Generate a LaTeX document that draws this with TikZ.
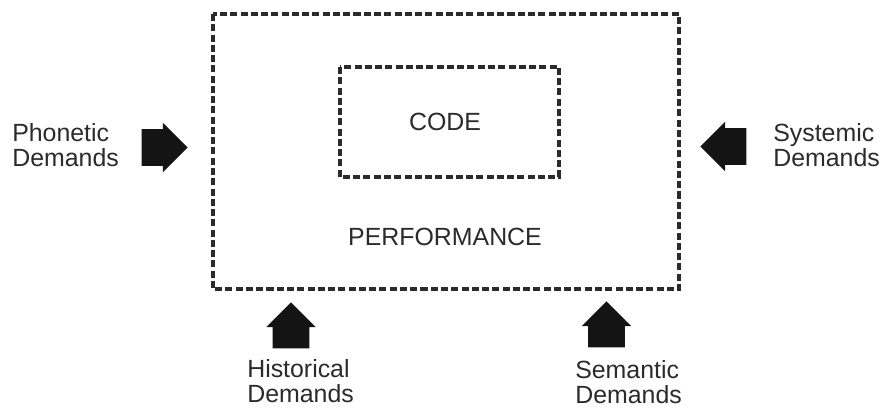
\documentclass[tikz,border=0pt]{standalone}
\usepackage{fontspec}
\setmainfont{Liberation Sans}
\usetikzlibrary{positioning, shapes.arrows}
\definecolor{inkgray}{HTML}{2B2B2B}
\tikzset{
	dashbox/.style={line width=2.8pt, dash pattern=on 5pt off 2.3pt, draw=inkgray},
	blockarrow/.style={single arrow, fill=black!92, draw=none, inner xsep=0pt, inner ysep=0.45cm,
		minimum height=1.15cm, single arrow head extend=0.16cm, single arrow head indent=0pt,
		anchor=tip},
	demtext/.style={anchor=north west, inner sep=0pt, align=left, text=inkgray,
		font=\fontsize{17.7}{17.9}\selectfont},
	boxtext/.style={inner sep=0pt, text=inkgray, font=\fontsize{17.7}{17.9}\selectfont}
}
\begin{document}
\begin{tikzpicture}[x=0.025cm, y=-0.025cm]
		\useasboundingbox (0,0) rectangle (894,408);
		%Boxes
		\draw[dashbox] (213,14) rectangle (679,289);
		\draw[dashbox] (340,67) rectangle (559,177);
		\node (code) at (445,122) [boxtext]{CODE};
		\node (perf) at (445,237) [boxtext]{PERFORMANCE};
		
		%Arrows (placed at their tips)
		\node (phonarrow) at (188,147.5) [blockarrow]{};
		\node (sysarrow) at (700,146.5) [blockarrow, rotate=180]{};
		\node (histarrow) at (291,302) [blockarrow, rotate=90]{};
		\node (semarrow) at (606.5,301) [blockarrow, rotate=90]{};
		
		%Labels
		\node (phonetic) at (12,123) [demtext]{Phonetic\\Demands};
		\node (systemic) at (773,123) [demtext]{Systemic\\Demands};
		\node (historical) at (247,359) [demtext]{Historical\\Demands};
		\node (semantic) at (575,360) [demtext]{Semantic\\Demands};
\end{tikzpicture}
\end{document}
